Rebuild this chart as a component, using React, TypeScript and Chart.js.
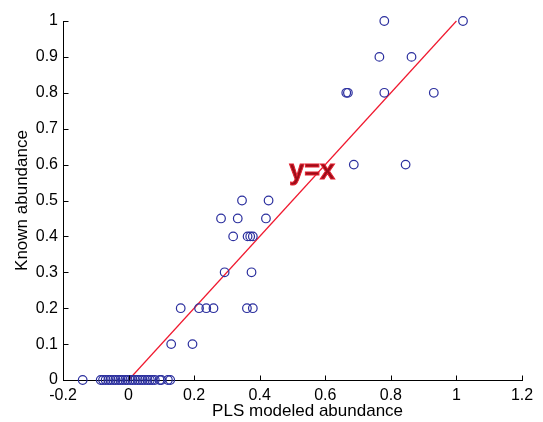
import React, { useEffect, useRef } from "react";
import { Chart, registerables } from "chart.js";

Chart.register(...registerables);

// Data
const modeledX: number[] = [
  0.78, 1.02,
  0.765, 0.863,
  0.664, 0.669, 0.78, 0.931,
  0.687, 0.845,
  0.346, 0.427,
  0.282, 0.333, 0.419,
  0.319, 0.363, 0.371, 0.379,
  0.293, 0.375,
  0.159, 0.215, 0.237, 0.259, 0.361, 0.379,
  0.13, 0.195,
  -0.14, -0.085, -0.078, -0.07, -0.062, -0.055, -0.047, -0.04, -0.032, -0.025,
  -0.018, -0.01, -0.003, 0.005, 0.012, 0.02, 0.028, 0.035, 0.042, 0.05,
  0.058, 0.065, 0.072, 0.08, 0.095, 0.1, 0.12, 0.127,
];
const knownY: number[] = [
  1, 1,
  0.9, 0.9,
  0.8, 0.8, 0.8, 0.8,
  0.6, 0.6,
  0.5, 0.5,
  0.45, 0.45, 0.45,
  0.4, 0.4, 0.4, 0.4,
  0.3, 0.3,
  0.2, 0.2, 0.2, 0.2, 0.2, 0.2,
  0.1, 0.1,
  0, 0, 0, 0, 0, 0, 0, 0, 0, 0,
  0, 0, 0, 0, 0, 0, 0, 0, 0, 0,
  0, 0, 0, 0, 0, 0, 0, 0,
];
const identityLine: number[] = [0, 1];
const xTicks: number[] = [-0.2, 0, 0.2, 0.4, 0.6, 0.8, 1, 1.2];
const yTicks: number[] = [0, 0.1, 0.2, 0.3, 0.4, 0.5, 0.6, 0.7, 0.8, 0.9, 1];
const xTitle = "PLS modeled abundance";
const yTitle = "Known abundance";
const lineLabel = "y=x";
const lineLabelAt = { x: 0.56, y: 0.58 };
const xTitleCenter = 0.546;

const FONT = "'Liberation Sans', Arial, Helvetica, sans-serif";

const fmt = (v: number) => String(Math.round(Number(v) * 10) / 10);

const extrasPlugin = {
  id: "extras",
  afterDraw(chart: any) {
    const ctx = chart.ctx;
    const xs = chart.scales.x;
    const ys = chart.scales.y;
    const area = chart.chartArea;
    ctx.save();
    // inward ticks
    ctx.strokeStyle = "#000";
    ctx.lineWidth = 1;
    ctx.beginPath();
    xTicks.forEach((t) => {
      const px = Math.round(xs.getPixelForValue(t)) + 0.5;
      ctx.moveTo(px, Math.round(area.bottom) + 0.5);
      ctx.lineTo(px, Math.round(area.bottom) + 0.5 - 5);
    });
    yTicks.forEach((t) => {
      const py = Math.round(ys.getPixelForValue(t)) + 0.5;
      ctx.moveTo(Math.round(area.left) + 0.5, py);
      ctx.lineTo(Math.round(area.left) + 0.5 + 5, py);
    });
    ctx.stroke();
    // x title
    ctx.fillStyle = "#000";
    ctx.font = `17px ${FONT}`;
    ctx.textAlign = "center";
    ctx.textBaseline = "middle";
    ctx.fillText(xTitle, xs.getPixelForValue(xTitleCenter), 411);
    // y=x label
    ctx.font = `bold 27px ${FONT}`;
    ctx.textAlign = "center";
    ctx.textBaseline = "middle";
    const lx = xs.getPixelForValue(lineLabelAt.x);
    const ly = ys.getPixelForValue(lineLabelAt.y);
    ctx.lineWidth = 1;
    ctx.strokeStyle = "#e3202f";
    ctx.fillStyle = "#9a0c18";
    ctx.fillText(lineLabel, lx, ly);
    ctx.strokeText(lineLabel, lx, ly);
    ctx.restore();
  },
};

export default function App() {
  const ref = useRef<HTMLCanvasElement | null>(null);
  useEffect(() => {
    if (!ref.current) return;
    const points = modeledX.map((x, i) => ({ x, y: knownY[i] }));
    const line = identityLine.map((v) => ({ x: v, y: v }));
    const chart = new Chart(ref.current, {
      type: "scatter",
      data: {
        datasets: [
          {
            type: "line",
            data: line,
            borderColor: "#f0192f",
            borderWidth: 1.2,
            pointRadius: 0,
            fill: false,
            clip: false,
            order: 2,
          } as any,
          {
            data: points,
            pointStyle: "circle",
            pointRadius: 4.3,
            pointBorderWidth: 1.2,
            borderColor: "#2b2f9e",
            backgroundColor: "rgba(0,0,0,0)",
            pointBackgroundColor: "rgba(0,0,0,0)",
            clip: false,
            order: 1,
          } as any,
        ],
      },
      options: {
        responsive: false,
        animation: false,
        devicePixelRatio: 1,
        layout: { padding: { top: 21, right: 21, left: 0, bottom: 0 } },
        plugins: { legend: { display: false }, tooltip: { enabled: false } },
        font: { family: FONT },
        scales: {
          x: {
            type: "linear",
            min: -0.2,
            max: 1.2,
            afterBuildTicks: (s: any) => {
              s.ticks = xTicks.map((v) => ({ value: v }));
            },
            afterFit: (s: any) => {
              s.height = 42;
            },
            grid: { display: false, drawTicks: false },
            border: { display: true, color: "#000", width: 1 },
            ticks: {
              autoSkip: false,
              maxRotation: 0,
              padding: 6,
              color: "#000",
              font: { family: FONT, size: 16 },
              callback: (v: any) => fmt(v),
            },
          },
          y: {
            type: "linear",
            min: 0,
            max: 1,
            afterBuildTicks: (s: any) => {
              s.ticks = yTicks.map((v) => ({ value: v }));
            },
            afterFit: (s: any) => {
              s.width = 63;
            },
            grid: { display: false, drawTicks: false },
            border: { display: true, color: "#000", width: 1 },
            title: {
              display: true,
              text: yTitle,
              color: "#000",
              font: { family: FONT, size: 17 },
              padding: { top: 12, bottom: 0 },
            },
            ticks: {
              padding: 5,
              color: "#000",
              font: { family: FONT, size: 16 },
              callback: (v: any) => fmt(v),
            },
          },
        },
      } as any,
      plugins: [extrasPlugin],
    });
    return () => chart.destroy();
  }, []);
  return (
    <div style={{ position: "absolute", left: 0, top: 0, width: 543, height: 422, background: "#fff" }}>
      <canvas ref={ref} width={543} height={422} style={{ width: 543, height: 422 }} />
    </div>
  );
}
